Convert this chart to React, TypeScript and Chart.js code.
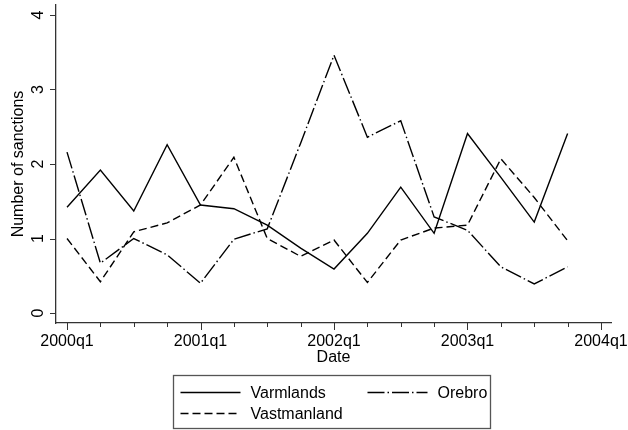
import React, { useEffect, useRef } from "react";
import { Chart, registerables } from "chart.js";

Chart.register(...registerables);

// ---- data ----
const quarters = [
  "2000q1", "2000q2", "2000q3", "2000q4",
  "2001q1", "2001q2", "2001q3", "2001q4",
  "2002q1", "2002q2", "2002q3", "2002q4",
  "2003q1", "2003q2", "2003q3", "2003q4",
];
const varmlands = [1.42, 1.92, 1.37, 2.26, 1.45, 1.40, 1.18, 0.87, 0.59, 1.07, 1.69, 1.07, 2.41, 1.82, 1.22, 2.41];
const orebro = [2.16, 0.67, 1.00, 0.78, 0.40, 0.99, 1.13, 2.28, 3.46, 2.36, 2.58, 1.29, 1.11, 0.62, 0.39, 0.62];
const vastmanland = [1.00, 0.42, 1.09, 1.21, 1.45, 2.09, 1.00, 0.76, 0.98, 0.41, 0.98, 1.14, 1.18, 2.07, 1.55, 0.97];
const xTickLabels = ["2000q1", "2001q1", "2002q1", "2003q1", "2004q1"];
const yTicks = [0, 1, 2, 3, 4];
const seriesNames = ["Varmlands", "Orebro", "Vastmanland"];
const xTitle = "Date";
const yTitle = "Number of sanctions";

const FONT = '"Liberation Sans", Arial, Helvetica, sans-serif';

function quarterIndex(label: string): number {
  const y = parseInt(label.slice(0, 4), 10);
  const q = parseInt(label.slice(5), 10);
  return (y - 2000) * 4 + (q - 1);
}

const majorValues = xTickLabels.map(quarterIndex);
const lastMajor = Math.max(...majorValues);
const quarterValues: number[] = [];
for (let v = 0; v <= lastMajor; v++) quarterValues.push(v);

const tickMarks = {
  id: "tickMarks",
  afterDraw(chart: any) {
    const { ctx, chartArea } = chart;
    const xs = chart.scales.x;
    const ys = chart.scales.y;
    ctx.save();
    ctx.strokeStyle = "#333";
    ctx.lineWidth = 1;
    for (const v of quarterValues) {
      const px = Math.round(xs.getPixelForValue(v)) + 0.5;
      const len = majorValues.includes(v) ? 7 : 4;
      ctx.beginPath();
      ctx.moveTo(px, chartArea.bottom);
      ctx.lineTo(px, chartArea.bottom + len);
      ctx.stroke();
    }
    for (const v of yTicks) {
      const py = Math.round(ys.getPixelForValue(v)) + 0.5;
      ctx.beginPath();
      ctx.moveTo(chartArea.left - 6, py);
      ctx.lineTo(chartArea.left, py);
      ctx.stroke();
    }
    ctx.restore();
  },
};

const boxLegend = {
  id: "boxLegend",
  afterDraw(chart: any) {
    const { ctx, chartArea } = chart;
    const w = 317;
    const h = 53;
    const cx = (chartArea.left + chartArea.right) / 2 - 2;
    const x0 = Math.round(cx - w / 2) + 0.5;
    const y0 = chart.height - 55 + 0.5;
    ctx.save();
    ctx.strokeStyle = "#555";
    ctx.lineWidth = 1.3;
    ctx.strokeRect(x0, y0, w, h);
    ctx.font = `16px ${FONT}`;
    ctx.textBaseline = "middle";
    ctx.textAlign = "left";
    ctx.fillStyle = "#000";
    chart.data.datasets.forEach((ds: any, i: number) => {
      const col = i % 2;
      const row = Math.floor(i / 2);
      const sx = x0 + 7 + col * 187;
      const sy = y0 + 17 + row * 21;
      ctx.save();
      ctx.strokeStyle = ds.borderColor;
      ctx.lineWidth = ds.borderWidth;
      ctx.setLineDash(ds.borderDash || []);
      ctx.beginPath();
      ctx.moveTo(sx, sy);
      ctx.lineTo(sx + 60, sy);
      ctx.stroke();
      ctx.restore();
      ctx.fillText(ds.label, sx + 70, sy + 1);
    });
    ctx.restore();
  },
};

export default function App() {
  const ref = useRef<HTMLCanvasElement | null>(null);
  useEffect(() => {
    document.body.style.margin = "0";
    const canvas = ref.current;
    if (!canvas) return;
    Chart.defaults.font.family = FONT;
    Chart.defaults.color = "#000";
    const mk = (vals: number[]) => vals.map((y, i) => ({ x: quarterIndex(quarters[i]), y }));
    const chart = new Chart(canvas, {
      type: "line",
      data: {
        datasets: [
          { label: seriesNames[0], data: mk(varmlands), borderColor: "#000", borderWidth: 1.4, borderDash: [], pointRadius: 0, tension: 0, fill: false },
          { label: seriesNames[1], data: mk(orebro), borderColor: "#000", borderWidth: 1.4, borderDash: [17, 3, 1.5, 3], pointRadius: 0, tension: 0, fill: false },
          { label: seriesNames[2], data: mk(vastmanland), borderColor: "#000", borderWidth: 1.4, borderDash: [8, 4], pointRadius: 0, tension: 0, fill: false },
        ],
      },
      options: {
        responsive: false,
        animation: false,
        events: [],
        layout: { padding: { left: 0, right: 17, top: 5, bottom: 62 } },
        plugins: { legend: { display: false }, tooltip: { enabled: false } },
        scales: {
          x: {
            type: "linear",
            min: -0.33,
            max: 16.3,
            grid: { display: false, drawTicks: false },
            border: { display: true, color: "#333", width: 1.3 },
            afterBuildTicks: (s: any) => {
              s.ticks = quarterValues.map((v) => ({ value: v }));
            },
            ticks: {
              autoSkip: false,
              maxRotation: 0,
              minRotation: 0,
              padding: 9,
              font: { size: 16, family: FONT },
              color: "#000",
              callback: (v: any) => {
                const idx = majorValues.indexOf(Number(v));
                return idx >= 0 ? xTickLabels[idx] : "";
              },
            },
            title: { display: true, text: xTitle, font: { size: 16, family: FONT }, color: "#000", padding: { top: 0, bottom: 1 } },
            afterFit: (s: any) => {
              s.height = 45;
              s.paddingLeft = 0;
              s.paddingRight = 0;
            },
          },
          y: {
            type: "linear",
            min: -0.134,
            max: 4.134,
            grid: { display: false, drawTicks: false },
            border: { display: true, color: "#333", width: 1.3 },
            afterBuildTicks: (s: any) => {
              s.ticks = yTicks.map((v) => ({ value: v }));
            },
            ticks: {
              autoSkip: false,
              minRotation: 90,
              maxRotation: 90,
              crossAlign: "center",
              padding: 13,
              font: { size: 16, family: FONT },
              color: "#000",
              callback: (v: any) => String(v),
            },
            title: { display: true, text: yTitle, font: { size: 16, family: FONT }, color: "#000", padding: { top: 9, bottom: 0 } },
            afterFit: (s: any) => {
              s.width = 56;
              s.paddingTop = 0;
              s.paddingBottom = 0;
            },
          },
        },
      },
      plugins: [tickMarks, boxLegend],
    } as any);
    return () => chart.destroy();
  }, []);
  return <canvas ref={ref} width={628} height={430} style={{ display: "block" }} />;
}
